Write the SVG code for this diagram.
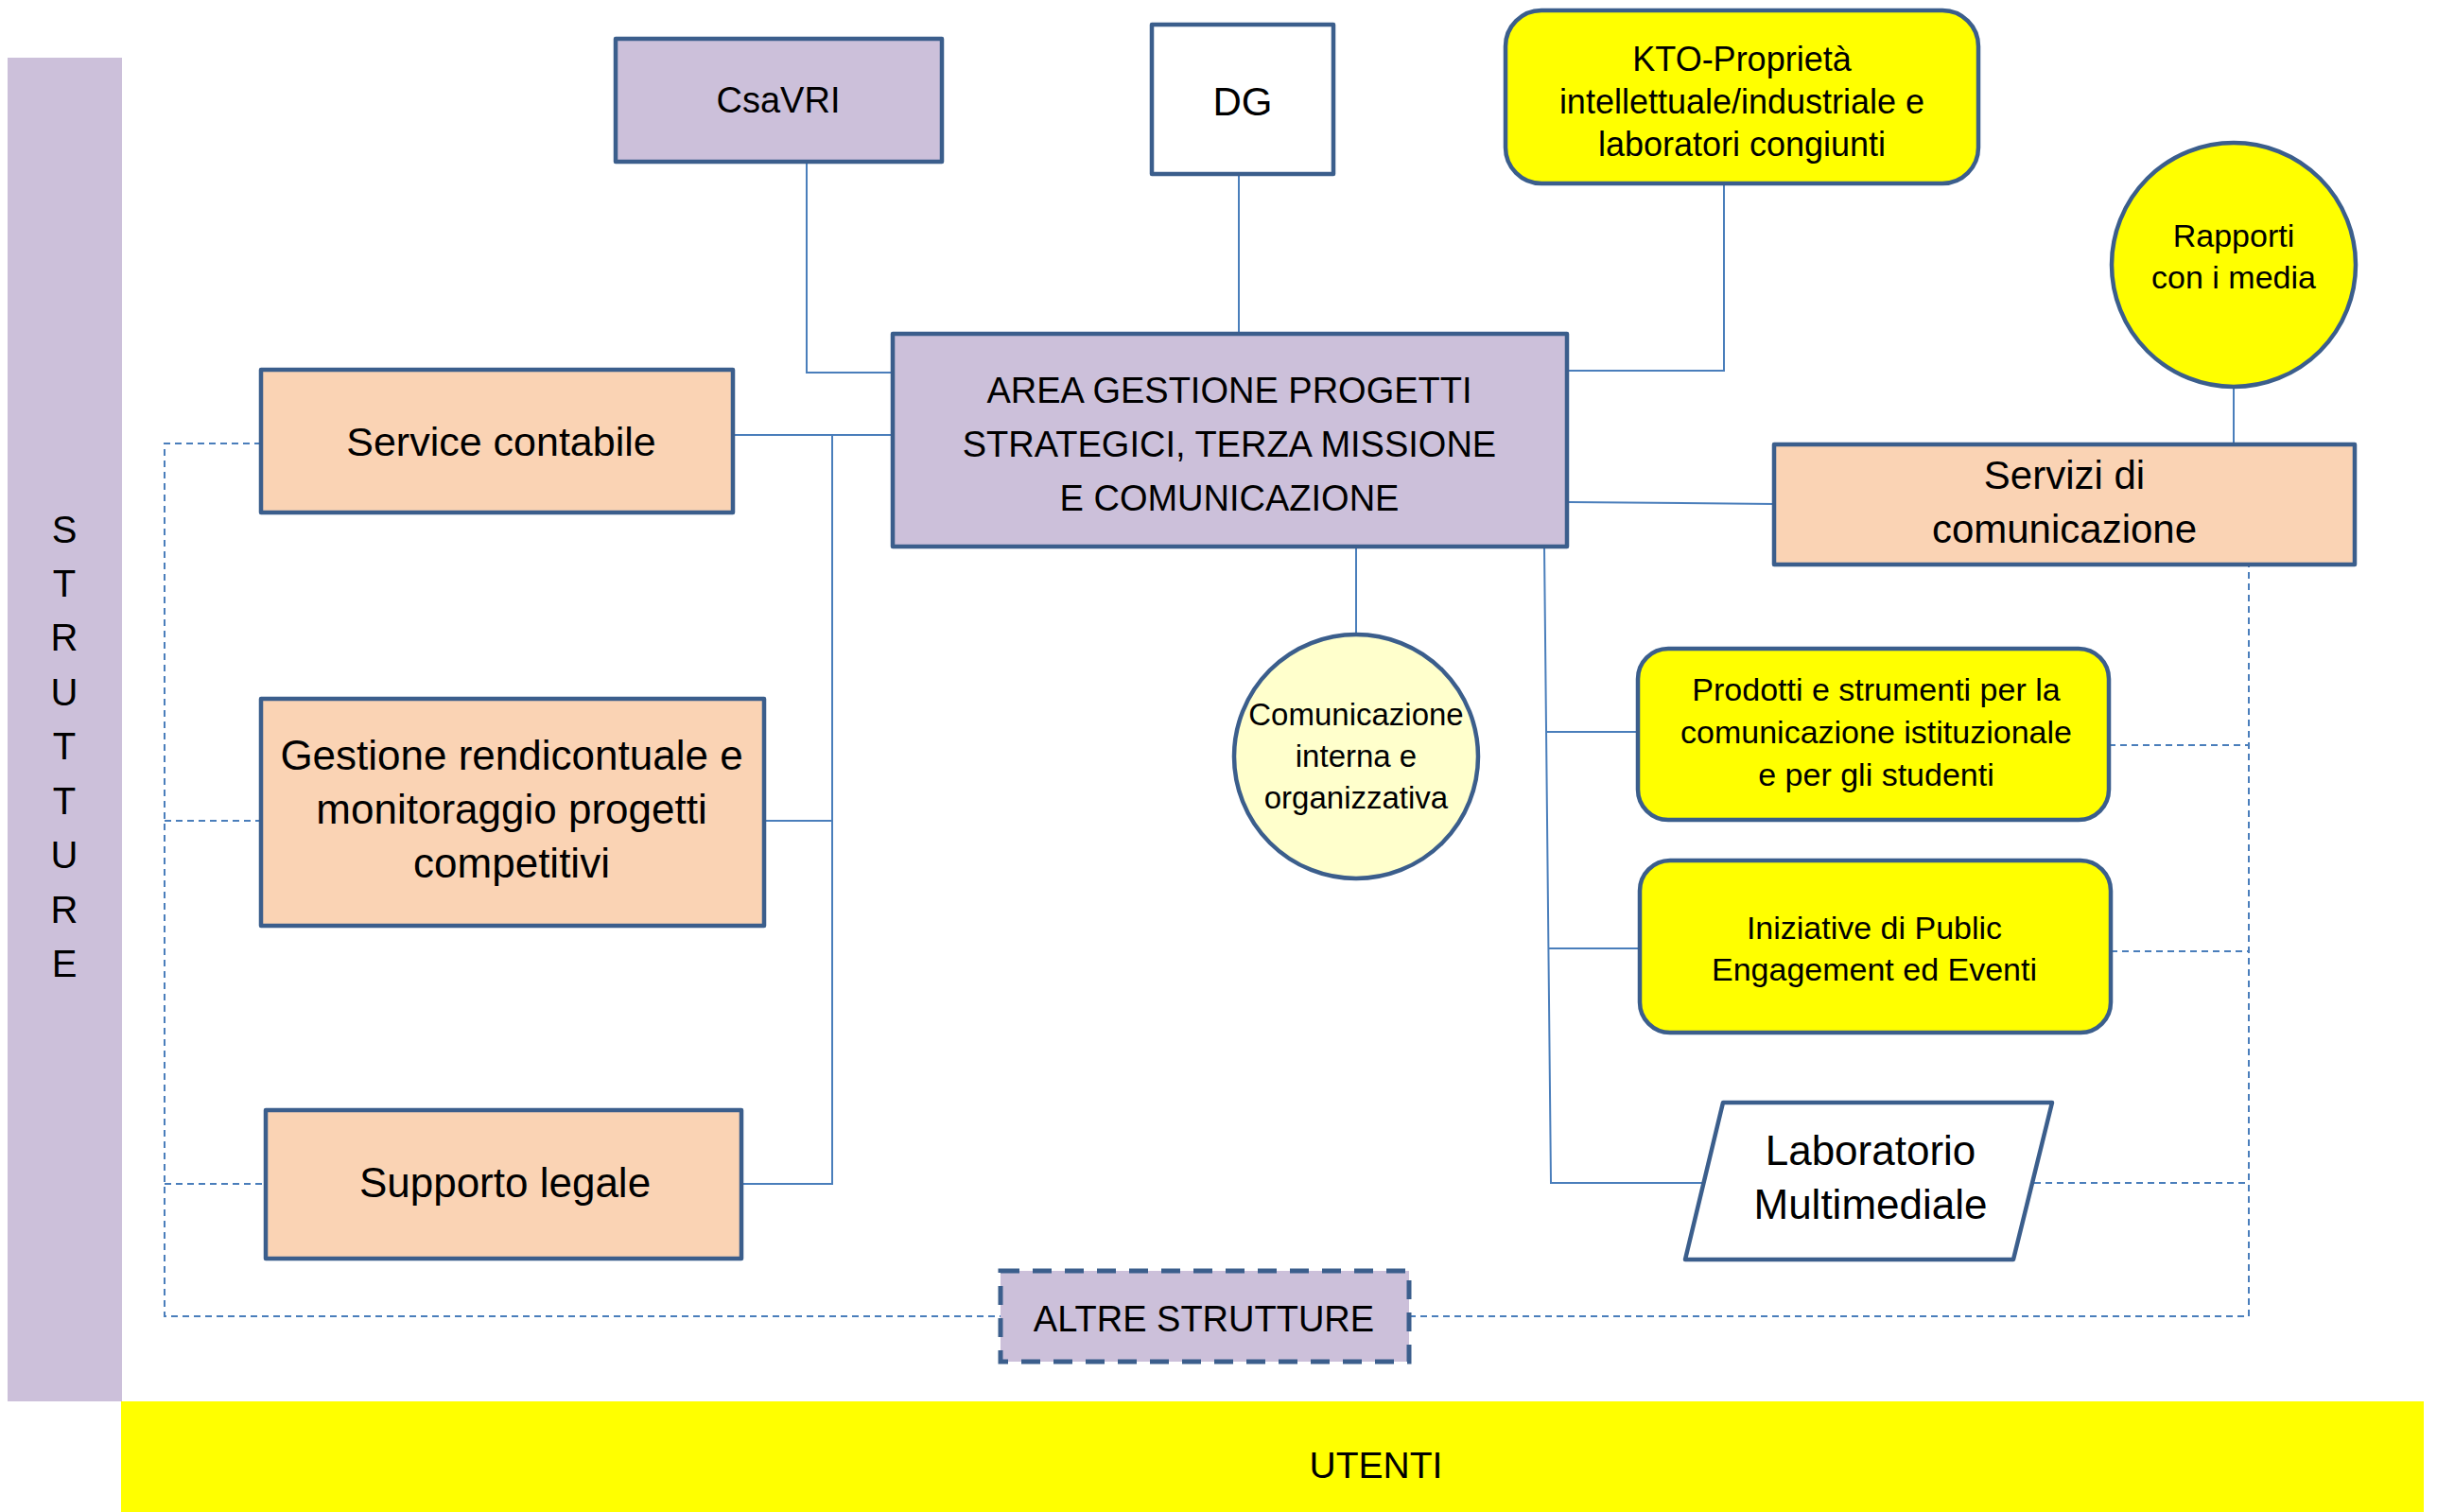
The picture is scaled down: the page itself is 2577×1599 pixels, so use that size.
<svg xmlns="http://www.w3.org/2000/svg" width="2577" height="1599" viewBox="0 0 2577 1599">
<style>
text{font-family:"Liberation Sans",Arial,sans-serif;fill:#000;text-anchor:middle}
.box{stroke:#3B5E8C;stroke-width:4.5;stroke-linejoin:round}
.lav{fill:#CCC0DA}
.peach{fill:#FAD3B4}
.yel{fill:#FFFF00}
.lyel{fill:#FFFFCC}
.wht{fill:#FFFFFF}
.ln{fill:none;stroke:#4A7EBB;stroke-width:2}
.dl{fill:none;stroke:#4A7EBB;stroke-width:2;stroke-dasharray:7 5}
</style>
<rect width="2577" height="1599" fill="#FFFFFF"/>
<g id="strutture">
<rect x="8" y="61" width="121" height="1421" fill="#CCC0DA"/>
<g font-size="40">
<text x="68" y="574">S</text><text x="68" y="631">T</text><text x="68" y="688">R</text><text x="68" y="746">U</text><text x="68" y="803">T</text><text x="68" y="861">T</text><text x="68" y="918">U</text><text x="68" y="976">R</text><text x="68" y="1033">E</text>
</g>
</g>
<g id="utenti">
<rect x="128" y="1482" width="2435" height="117" fill="#FFFF00"/>
<text x="1455" y="1563" font-size="39">UTENTI</text>
</g>
<g id="connectors">
<polyline class="ln" points="853,171 853,394 944,394"/>
<line class="ln" x1="1310" y1="184" x2="1310" y2="353"/>
<polyline class="ln" points="1823,194 1823,392 1659,392"/>
<line class="ln" x1="1659" y1="531" x2="1876" y2="533"/>
<line class="ln" x1="2362" y1="409" x2="2362" y2="470"/>
<line class="ln" x1="775" y1="460" x2="944" y2="460"/>
<polyline class="ln" points="880,460 880,1252 784,1252"/>
<line class="ln" x1="808" y1="868" x2="880" y2="868"/>
<line class="ln" x1="1434" y1="578" x2="1434" y2="671"/>
<polyline class="ln" points="1633,578 1640,1251 1802,1251"/>
<line class="ln" x1="1636" y1="774" x2="1732" y2="774"/>
<line class="ln" x1="1638" y1="1003" x2="1734" y2="1003"/>
<polyline class="dl" points="276,469 174,469 174,1392 1058,1392"/>
<line class="dl" x1="174" y1="868" x2="276" y2="868"/>
<line class="dl" x1="174" y1="1252" x2="281" y2="1252"/>
<polyline class="dl" points="1490,1392 2378,1392 2378,597"/>
<line class="dl" x1="2230" y1="788" x2="2378" y2="788"/>
<line class="dl" x1="2232" y1="1006" x2="2378" y2="1006"/>
<line class="dl" x1="2151" y1="1251" x2="2378" y2="1251"/>
</g>
<g id="csavri">
<rect class="box lav" x="651" y="41" width="345" height="130"/>
<text x="823" y="119" font-size="38">CsaVRI</text>
</g>
<g id="dg">
<rect class="box wht" x="1218" y="26" width="192" height="158"/>
<text x="1314" y="122" font-size="42">DG</text>
</g>
<g id="kto">
<rect class="box yel" x="1592" y="11" width="500" height="183" rx="38" ry="38"/>
<text x="1842" y="75" font-size="36">KTO-Proprietà</text>
<text x="1842" y="120" font-size="36">intellettuale/industriale e</text>
<text x="1842" y="165" font-size="36">laboratori congiunti</text>
</g>
<g id="area">
<rect class="box lav" x="944" y="353" width="713" height="225"/>
<text x="1300" y="426" font-size="38">AREA GESTIONE PROGETTI</text>
<text x="1300" y="483" font-size="38">STRATEGICI, TERZA MISSIONE</text>
<text x="1300" y="540" font-size="38">E COMUNICAZIONE</text>
</g>
<g id="rapporti">
<circle class="box yel" cx="2362" cy="280" r="129"/>
<text x="2362" y="261" font-size="34">Rapporti</text>
<text x="2362" y="305" font-size="34">con i media</text>
</g>
<g id="servizi">
<rect class="box peach" x="1876" y="470" width="614" height="127"/>
<text x="2183" y="517" font-size="42">Servizi di</text>
<text x="2183" y="574" font-size="42">comunicazione</text>
</g>
<g id="service-contabile">
<rect class="box peach" x="276" y="391" width="499" height="151"/>
<text x="530" y="482" font-size="43">Service contabile</text>
</g>
<g id="gestione">
<rect class="box peach" x="276" y="739" width="532" height="240"/>
<text x="541" y="814" font-size="44">Gestione rendicontuale e</text>
<text x="541" y="871" font-size="44">monitoraggio progetti</text>
<text x="541" y="928" font-size="44">competitivi</text>
</g>
<g id="supporto">
<rect class="box peach" x="281" y="1174" width="503" height="157"/>
<text x="534" y="1266" font-size="44">Supporto legale</text>
</g>
<g id="comunicazione-interna">
<circle class="box lyel" cx="1434" cy="800" r="129"/>
<text x="1434" y="767" font-size="33">Comunicazione</text>
<text x="1434" y="811" font-size="33">interna e</text>
<text x="1434" y="855" font-size="33">organizzativa</text>
</g>
<g id="prodotti">
<rect class="box yel" x="1732" y="686" width="498" height="181" rx="32" ry="32"/>
<text x="1984" y="741" font-size="34">Prodotti e strumenti per la</text>
<text x="1984" y="786" font-size="34">comunicazione istituzionale</text>
<text x="1984" y="831" font-size="34">e per gli studenti</text>
</g>
<g id="iniziative">
<rect class="box yel" x="1734" y="910" width="498" height="182" rx="32" ry="32"/>
<text x="1982" y="993" font-size="34">Iniziative di Public</text>
<text x="1982" y="1037" font-size="34">Engagement ed Eventi</text>
</g>
<g id="laboratorio">
<polygon class="box wht" points="1822,1166 2170,1166 2129,1332 1782,1332"/>
<text x="1978" y="1232" font-size="44">Laboratorio</text>
<text x="1978" y="1289" font-size="44">Multimediale</text>
</g>
<g id="altre-strutture">
<rect x="1058" y="1344" width="432" height="96" fill="#CCC0DA" stroke="#3B5E8C" stroke-width="5" stroke-dasharray="20 14"/>
<text x="1273" y="1408" font-size="38">ALTRE STRUTTURE</text>
</g>
</svg>
